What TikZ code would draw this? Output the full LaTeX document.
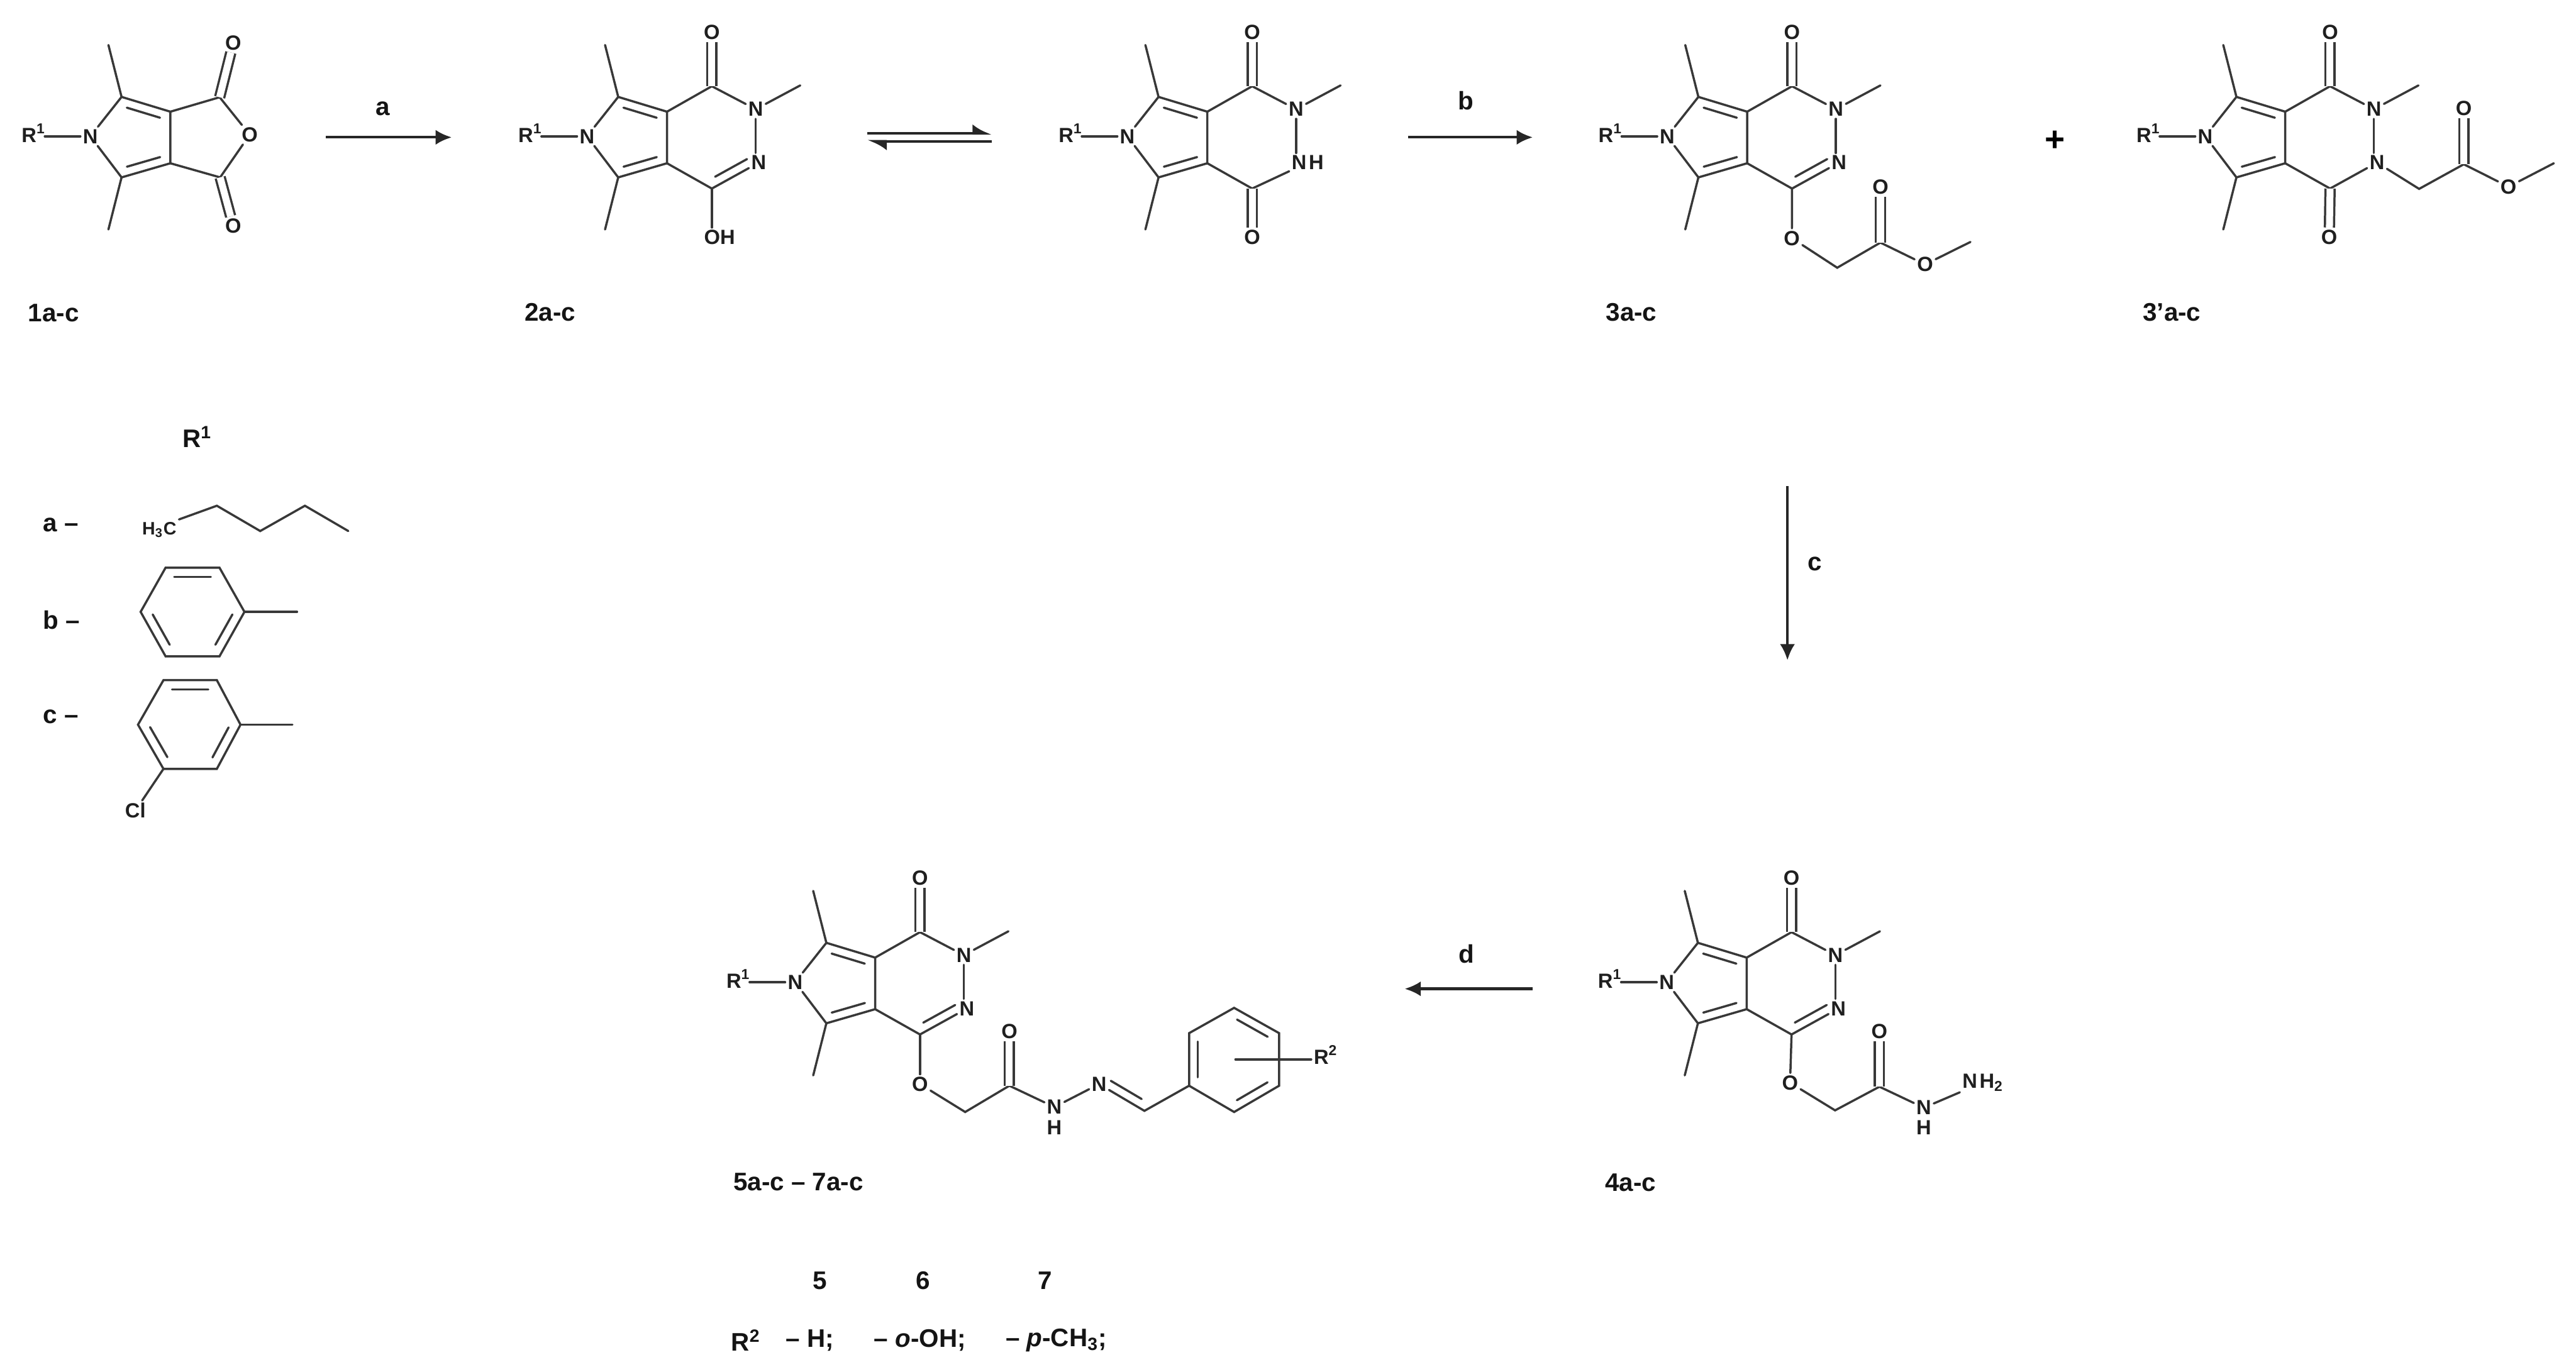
\documentclass[tikz,border=0pt]{standalone}
\usepackage{fontspec}
\setmainfont{Liberation Sans}
\usetikzlibrary{calc}
\usetikzlibrary{arrows.meta}
\definecolor{bondgray}{gray}{0.22}
\tikzset{
        % Atom letters
        atom_label/.style={align=center,inner sep=0.9pt,font=\fontsize{8.9}{9}\selectfont\bfseries,text=black!88},
        % Compound numbers and other captions
        caption_label/.style={align=center,inner sep=1pt,font=\fontsize{11}{12}\selectfont\bfseries,text=black!92},
        % Bonds
        bond_line/.style={draw=bondgray,line width=0.95pt,line cap=round},
        bond_double/.style={draw=bondgray,line width=0.95pt,double,double distance=3pt},
        % Reaction arrows
        reaction_arrow/.style={draw=black!85,line width=1.15pt,-{Latex[length=7pt,width=6.5pt]}},
        balance_arrow/.style={draw=black!85,line width=1.1pt,-{Latex[left,length=7pt,width=8pt]}}
}
% inner stroke of a double bond, #3 picks the side
\newcommand{\innerbond}[3]{
    \draw[bond_line] ($(#1)!0.16!(#2)!#3!90:(#2)$) -- ($(#2)!0.16!(#1)!-#3!90:(#1)$);
}
% R1-N pyrrole ring with its two methyl groups
\newcommand{\pyrrolepart}[3]{
    \begin{scope}[shift={(#2,#3)}]
        \node[atom_label] (#1_n) at (0,0) {N};
        \node[atom_label] (#1_r) at (-34.5,-2) {R\textsuperscript{1}};
        \coordinate (#1_tl) at (19,-24);
        \coordinate (#1_bl) at (19,25);
        \coordinate (#1_ca) at (48.7,-15);
        \coordinate (#1_cb) at (48.7,16.4);
        \coordinate (#1_me_t) at (11,-55.6);
        \coordinate (#1_me_b) at (11,56.7);
    \end{scope}
    \draw[bond_line] ([xshift=-1.5pt]#1_r.east |- #1_n) -- (#1_n);
    \draw[bond_line] (#1_n) -- (#1_tl) -- (#1_ca) -- (#1_cb) -- (#1_bl) -- (#1_n);
    \draw[bond_line] (#1_tl) -- (#1_me_t);
    \draw[bond_line] (#1_bl) -- (#1_me_b);
    \innerbond{#1_tl}{#1_ca}{-3.8pt}
    \innerbond{#1_bl}{#1_cb}{3.8pt}
}
% six-membered ring on top of the pyrrole part, #4 is the lower ring nitrogen
\newcommand{\diazinepart}[4]{
    \begin{scope}[shift={(#2,#3)}]
        \coordinate (#1_c_t) at (76,-30.5);
        \coordinate (#1_c_b) at (76,31.8);
        \coordinate (#1_me_n) at (129.8,-31);
        \node[atom_label] (#1_o_t) at (76,-63.5) {O};
        \node[atom_label] (#1_n_a) at (102.7,-16.5) {N};
        \node[atom_label,anchor=west] (#1_n_b) at (98.5,16) {#4};
    \end{scope}
    \draw[bond_line] (#1_ca) -- (#1_c_t) -- (#1_n_a) -- (#1_me_n);
    \draw[bond_line] (#1_n_a) -- (#1_n_a |- #1_n_b.north);
    \draw[bond_line] (#1_c_b) -- (#1_cb);
    \draw[bond_double] (#1_c_t) -- (#1_o_t);
}
\begin{document}
\begin{tikzpicture}[x=0.025cm,y=-0.025cm]
    \useasboundingbox (0,0) rectangle (1568,835);

    % compound 1a-c
    \pyrrolepart{one}{55}{83}
    \coordinate (one_c_t) at (133.7,59.2);
    \coordinate (one_c_b) at (134,108);
    \node[atom_label] (one_o) at (152,82) {O};
    \node[atom_label] (one_o_t) at (142,26) {O};
    \node[atom_label] (one_o_b) at (142,137.7) {O};
    \draw[bond_line] (one_ca) -- (one_c_t) -- (one_o) -- (one_c_b) -- (one_cb);
    \draw[bond_double] (one_c_t) -- (one_o_t);
    \draw[bond_double] (one_c_b) -- (one_o_b);
    \node[caption_label] (one_name) at (32.7,190.5) {1a-c};

    % compound 2a-c
    \pyrrolepart{two}{357.3}{83}
    \diazinepart{two}{357.3}{83}{N}
    \node[atom_label] (two_oh) at (438,144.5) {OH};
    \draw[bond_line] (two_c_b) -- (two_n_b);
    \draw[bond_line] (two_c_b) -- (two_c_b |- two_oh.north);
    \innerbond{two_c_b}{two_n_b}{3.8pt}
    \node[caption_label] (two_name) at (334.8,190) {2a-c};

    % tautomer of 2a-c
    \pyrrolepart{taut}{686.2}{83}
    \diazinepart{taut}{686.2}{83}{N\hspace{1pt}H}
    \node[atom_label] (taut_o_b) at (762.2,144.5) {O};
    \draw[bond_line] (taut_c_b) -- (taut_n_b);
    \draw[bond_double] (taut_c_b) -- (taut_o_b);

    % compound 3a-c
    \pyrrolepart{three}{1014.8}{83}
    \diazinepart{three}{1014.8}{83}{N}
    \coordinate (three_ch) at (1118.3,163);
    \coordinate (three_co) at (1144.6,147.7);
    \coordinate (three_me) at (1199.4,147.3);
    \node[atom_label] (three_o) at (1090.7,145) {O};
    \node[atom_label] (three_o_d) at (1144.6,113.7) {O};
    \node[atom_label] (three_o_e) at (1171.8,161) {O};
    \draw[bond_line] (three_c_b) -- (three_n_b);
    \innerbond{three_c_b}{three_n_b}{3.8pt}
    \draw[bond_line] (three_c_b) -- (three_o);
    \draw[bond_line] (three_o) -- (three_ch) -- (three_co) -- (three_o_e) -- (three_me);
    \draw[bond_double] (three_co) -- (three_o_d);
    \node[caption_label] (three_name) at (993,190) {3a-c};

    \node[font=\fontsize{15}{16}\selectfont\bfseries] (plus_sign) at (1251,86) {+};

    % compound 3'a-c
    \pyrrolepart{prime}{1342.3}{83}
    \diazinepart{prime}{1342.3}{83}{N}
    \coordinate (prime_ch) at (1472.5,115);
    \coordinate (prime_co) at (1499.7,100);
    \coordinate (prime_me) at (1554.5,99.4);
    \node[atom_label] (prime_o_b) at (1417.8,144.5) {O};
    \node[atom_label] (prime_o_d) at (1499.7,66) {O};
    \node[atom_label] (prime_o_e) at (1526.9,113.7) {O};
    \draw[bond_line] (prime_c_b) -- (prime_n_b);
    \draw[bond_double] (prime_c_b) -- (prime_o_b);
    \draw[bond_line] (prime_n_b) -- (prime_ch) -- (prime_co) -- (prime_o_e) -- (prime_me);
    \draw[bond_double] (prime_co) -- (prime_o_d);
    \node[caption_label] (prime_name) at (1322,190) {3'a-c};

    % compound 4a-c
    \pyrrolepart{four}{1014.5}{598}
    \diazinepart{four}{1014.5}{598}{N}
    \coordinate (four_ch) at (1117,676);
    \coordinate (four_co) at (1144,661.6);
    \node[atom_label] (four_o) at (1089.6,659.2) {O};
    \node[atom_label] (four_o_d) at (1144,628) {O};
    \node[atom_label] (four_nh) at (1171,674.4) {N};
    \node[atom_label] (four_nh_h) at (1171,686.6) {H};
    \node[atom_label] (four_nh_two) at (1207,659) {N\hspace{1pt}H\textsubscript{2}};
    \draw[bond_line] (four_c_b) -- (four_n_b);
    \innerbond{four_c_b}{four_n_b}{3.8pt}
    \draw[bond_line] (four_c_b) -- (four_o);
    \draw[bond_line] (four_o) -- (four_ch) -- (four_co) -- (four_nh);
    \draw[bond_line] (four_nh) -- (four_nh_two);
    \draw[bond_double] (four_co) -- (four_o_d);
    \node[caption_label] (four_name) at (992.5,720) {4a-c};

    % compounds 5a-c to 7a-c
    \pyrrolepart{five}{484}{598}
    \diazinepart{five}{484}{598}{N}
    \coordinate (five_ch) at (587.5,677);
    \coordinate (five_co) at (614.4,661);
    \coordinate (five_cn) at (696.6,676.3);
    \coordinate (five_pa) at (723.8,661);
    \coordinate (five_pb) at (723.8,629);
    \coordinate (five_pc) at (751.2,613.6);
    \coordinate (five_pd) at (778.6,629);
    \coordinate (five_pe) at (778.6,661);
    \coordinate (five_pf) at (751.2,677);
    \coordinate (five_mid) at (752,645);
    \node[atom_label] (five_o) at (560,660) {O};
    \node[atom_label] (five_o_d) at (614.4,628) {O};
    \node[atom_label] (five_nh) at (641.8,674) {N};
    \node[atom_label] (five_nh_h) at (641.8,686.4) {H};
    \node[atom_label] (five_n_c) at (669,660) {N};
    \node[atom_label] (five_r) at (807,642) {R\textsuperscript{2}};
    \draw[bond_line] (five_c_b) -- (five_n_b);
    \innerbond{five_c_b}{five_n_b}{3.8pt}
    \draw[bond_line] (five_c_b) -- (five_o);
    \draw[bond_line] (five_o) -- (five_ch) -- (five_co) -- (five_nh) -- (five_n_c);
    \draw[bond_double] (five_co) -- (five_o_d);
    \draw[bond_line] (five_n_c) -- (five_cn) -- (five_pa);
    \draw[bond_line] (five_pa) -- (five_pb) -- (five_pc) -- (five_pd) -- (five_pe) -- (five_pf) -- cycle;
    \innerbond{five_cn}{five_n_c}{-3.8pt}
    \innerbond{five_pa}{five_pb}{-3.8pt}
    \innerbond{five_pc}{five_pd}{-3.8pt}
    \innerbond{five_pe}{five_pf}{-3.8pt}
    \draw[bond_line] (five_mid) -- (five_r.west |- five_mid);
    \node[caption_label] (five_name) at (486,719.5) {5a-c -- 7a-c};

    % R2 table
    \node[caption_label] (col_five) at (499,779.6) {5};
    \node[caption_label] (col_six) at (562,779.6) {6};
    \node[caption_label] (col_seven) at (636.3,779.6) {7};
    \node[caption_label] (row_r) at (454,816) {R\textsuperscript{2}};
    \node[caption_label] (row_five) at (493,816) {-- H;};
    \node[caption_label] (row_six) at (560,816) {-- \textit{o}-OH;};
    \node[caption_label] (row_seven) at (643,816) {-- \textit{p}-CH\textsubscript{3};};

    % R1 table
    \node[caption_label] (head_r) at (120,265.9) {R\textsuperscript{1}};
    \node[caption_label] (row_a) at (37,319.5) {a --};
    \node[caption_label] (row_b) at (37.5,377.3) {b --};
    \node[caption_label] (row_c) at (37,436.4) {c --};

    \node[atom_label,font=\fontsize{7.8}{8}\selectfont\bfseries] (chain_h) at (97,322.4) {H\textsubscript{3}C};
    \coordinate (chain_a) at (132,307.9);
    \coordinate (chain_b) at (158.4,323.3);
    \coordinate (chain_c) at (185.6,307.9);
    \coordinate (chain_d) at (212,323.3);
    \draw[bond_line] (chain_h.north east) -- (chain_a) -- (chain_b) -- (chain_c) -- (chain_d);

    \coordinate (ph_a) at (100.8,345.6);
    \coordinate (ph_b) at (133.6,345.6);
    \coordinate (ph_c) at (148.8,372.5);
    \coordinate (ph_d) at (133.6,399.6);
    \coordinate (ph_e) at (100.8,399.6);
    \coordinate (ph_f) at (85.6,372.5);
    \coordinate (ph_end) at (180.8,372.5);
    \draw[bond_line] (ph_a) -- (ph_b) -- (ph_c) -- (ph_d) -- (ph_e) -- (ph_f) -- cycle;
    \draw[bond_line] (ph_c) -- (ph_end);
    \innerbond{ph_a}{ph_b}{-4pt}
    \innerbond{ph_c}{ph_d}{-4pt}
    \innerbond{ph_e}{ph_f}{-4pt}

    \coordinate (cl_a) at (99.5,414.1);
    \coordinate (cl_b) at (132,414.1);
    \coordinate (cl_c) at (146.4,441.2);
    \coordinate (cl_d) at (132,468.1);
    \coordinate (cl_e) at (99.5,468.1);
    \coordinate (cl_f) at (84,441.2);
    \coordinate (cl_end) at (178,441.2);
    \node[atom_label] (cl_atom) at (82.4,493.5) {Cl};
    \draw[bond_line] (cl_a) -- (cl_b) -- (cl_c) -- (cl_d) -- (cl_e) -- (cl_f) -- cycle;
    \draw[bond_line] (cl_c) -- (cl_end);
    \draw[bond_line] (cl_e) -- (cl_atom);
    \innerbond{cl_a}{cl_b}{-4pt}
    \innerbond{cl_c}{cl_d}{-4pt}
    \innerbond{cl_e}{cl_f}{-4pt}

    % reaction arrows
    \coordinate (arrow_a_in) at (198.4,83.6);
    \coordinate (arrow_a_out) at (275,83.6);
    \draw[reaction_arrow] (arrow_a_in) -- (arrow_a_out) node[caption_label,midway,xshift=-2.6pt,yshift=12.5pt] (label_a) {a};
    \coordinate (balance_l_up) at (527.9,81.2);
    \coordinate (balance_r_up) at (603.8,81.2);
    \coordinate (balance_l_dn) at (527.9,86);
    \coordinate (balance_r_dn) at (603.8,86);
    \draw[balance_arrow] (balance_l_up) -- (balance_r_up);
    \draw[balance_arrow] (balance_r_dn) -- (balance_l_dn);
    \coordinate (arrow_b_in) at (857,83.6);
    \coordinate (arrow_b_out) at (933,83.6);
    \draw[reaction_arrow] (arrow_b_in) -- (arrow_b_out) node[caption_label,midway,xshift=-2pt,yshift=16pt] (label_b) {b};
    \coordinate (arrow_c_in) at (1088,296);
    \coordinate (arrow_c_out) at (1088,402);
    \draw[reaction_arrow] (arrow_c_in) -- (arrow_c_out) node[caption_label,midway,xshift=12pt,yshift=4pt] (label_c) {c};
    \coordinate (arrow_d_in) at (933,602);
    \coordinate (arrow_d_out) at (855,602);
    \draw[reaction_arrow] (arrow_d_in) -- (arrow_d_out) node[caption_label,midway,xshift=-1pt,yshift=15pt] (label_d) {d};
\end{tikzpicture}
\end{document}
